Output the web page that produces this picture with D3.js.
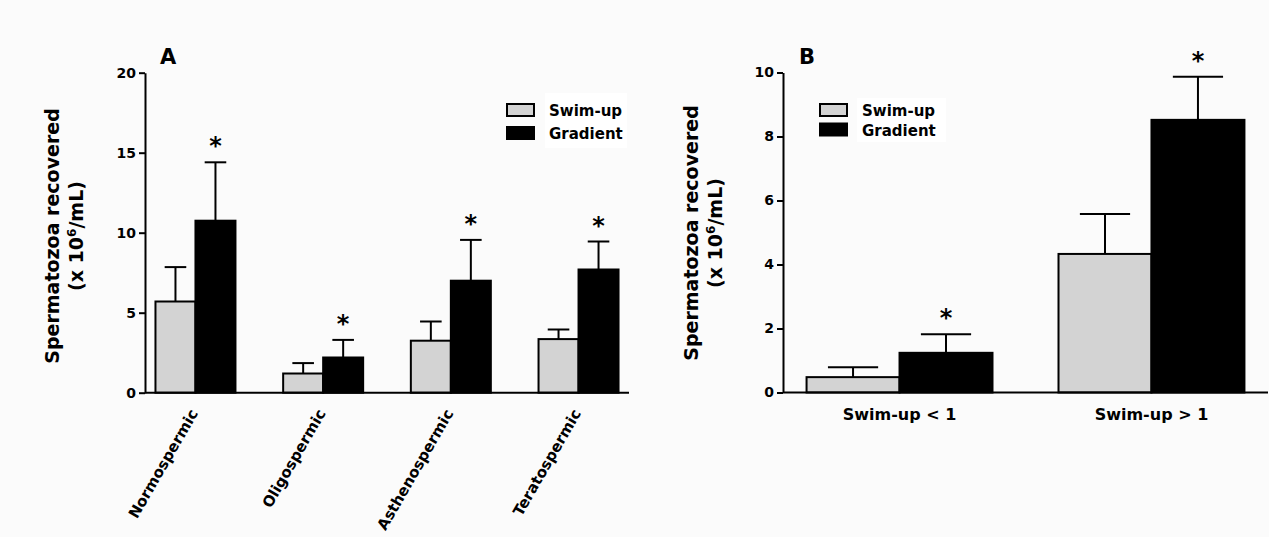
<!DOCTYPE html>
<html>
<head>
<meta charset="utf-8">
<script src="https://cdn.jsdelivr.net/npm/d3@7"></script>
<style>
body { margin: 0; background: #fbfbfb; }
svg { display: block; font-family: "DejaVu Sans", sans-serif; font-weight: bold; }
</style>
</head>
<body>
<script>
/* Data */
var seriesNames = ["Swim-up", "Gradient"];
var seriesFill = ["#d3d3d3", "#000000"];

var catsA = ["Normospermic", "Oligospermic", "Asthenospermic", "Teratospermic"];
var swimA = [5.7, 1.2, 3.25, 3.35];
var swimSemA = [2.15, 0.65, 1.2, 0.6];
var gradA = [10.75, 2.2, 7.0, 7.7];
var gradSemA = [3.65, 1.1, 2.55, 1.75];
var ticksA = [0, 5, 10, 15, 20];

var catsB = ["Swim-up < 1", "Swim-up > 1"];
var swimB = [0.48, 4.33];
var swimSemB = [0.31, 1.25];
var gradB = [1.24, 8.52];
var gradSemB = [0.58, 1.35];
var ticksB = [0, 2, 4, 6, 8, 10];

var W = 1269, H = 537;

var svg = d3.select("body").append("svg")
    .attr("width", W)
    .attr("height", H);

function panel(p) {
  var g = svg.append("g");
  var y = d3.scaleLinear().domain([0, p.max]).range([p.y0, p.y1]);
  var x = d3.scaleBand().domain(p.cats).range([p.x0, p.x1])
      .paddingInner(p.pi).paddingOuter(p.po);
  var xs = d3.scaleBand().domain(seriesNames).range([0, x.bandwidth()]);
  var bw = xs.bandwidth();

  var rows = [];
  p.cats.forEach(function(c, i) {
    rows.push({cat: c, s: 0, v: p.swim[i], e: p.swimSem[i], star: false});
    rows.push({cat: c, s: 1, v: p.grad[i], e: p.gradSem[i], star: true});
  });

  // error bars
  var eb = g.append("g").attr("stroke", "#000").attr("stroke-width", 2);
  rows.forEach(function(d) {
    var cx = x(d.cat) + xs(seriesNames[d.s]) + bw / 2;
    eb.append("line").attr("x1", cx).attr("x2", cx)
        .attr("y1", y(d.v)).attr("y2", y(d.v + d.e));
    eb.append("line").attr("x1", cx - bw * 0.27).attr("x2", cx + bw * 0.27)
        .attr("y1", y(d.v + d.e)).attr("y2", y(d.v + d.e));
  });

  g.selectAll("rect.bar").data(rows).join("rect")
      .attr("class", "bar")
      .attr("x", function(d) { return x(d.cat) + xs(seriesNames[d.s]); })
      .attr("y", function(d) { return y(d.v); })
      .attr("width", bw)
      .attr("height", function(d) { return y(0) - y(d.v); })
      .attr("fill", function(d) { return seriesFill[d.s]; })
      .attr("stroke", "#000").attr("stroke-width", 2);

  g.selectAll("text.star").data(rows.filter(function(d) { return d.star; })).join("text")
      .attr("class", "star")
      .attr("x", function(d) { return x(d.cat) + xs(seriesNames[d.s]) + bw / 2; })
      .attr("y", function(d) { return y(d.v + d.e) - 8; })
      .attr("text-anchor", "middle")
      .attr("font-size", 24)
      .text("*");

  // axes
  var ya = g.append("g").attr("transform", "translate(" + p.x0 + ",0)")
      .call(d3.axisLeft(y).tickValues(p.ticks).tickSize(6).tickSizeOuter(0).tickPadding(3));
  ya.selectAll("path, line").attr("stroke", "#000").attr("stroke-width", 2);
  ya.selectAll("text").attr("font-size", 14).attr("font-family", "DejaVu Sans")
      .attr("font-weight", "bold").attr("fill", "#000");

  g.append("line").attr("x1", p.x0).attr("x2", p.xEnd)
      .attr("y1", y(0)).attr("y2", y(0))
      .attr("stroke", "#000").attr("stroke-width", 2);

  // category labels
  var lab = g.selectAll("text.cat").data(p.cats).join("text")
      .attr("class", "cat")
      .attr("font-size", p.catSize)
      .text(function(d) { return d; });
  if (p.rotate) {
    lab.attr("text-anchor", "end")
        .attr("transform", function(d) {
          return "translate(" + (x(d) + x.bandwidth() / 2 + 3) + "," + p.catY + ") rotate(-60)";
        });
  } else {
    lab.attr("text-anchor", "middle")
        .attr("x", function(d) { return x(d) + x.bandwidth() / 2; })
        .attr("y", p.catY);
  }

  // y title
  var t = g.append("text").attr("font-size", 19).attr("text-anchor", "middle")
      .attr("transform", "translate(" + p.titleX + "," + p.titleY + ") rotate(-90)");
  t.append("tspan").attr("x", 0).attr("y", 0).text("Spermatozoa recovered");
  var t2 = t.append("tspan").attr("x", 0).attr("y", 24);
  t2.append("tspan").text("(x 10");
  t2.append("tspan").attr("font-size", 12).attr("dy", -7).text("6");
  t2.append("tspan").attr("dy", 7).text("/mL)");

  // panel letter
  g.append("text").attr("x", p.letterX).attr("y", 64).attr("font-size", 21).text(p.letter);

  // legend
  var lg = g.append("g");
  lg.append("rect").attr("x", p.leg.bx).attr("y", p.leg.by)
      .attr("width", p.leg.bw).attr("height", p.leg.bh).attr("fill", "#fff");
  seriesNames.forEach(function(s, i) {
    var yy = p.leg.y + i * p.leg.dy;
    lg.append("rect").attr("x", p.leg.x).attr("y", yy)
        .attr("width", 27).attr("height", 12)
        .attr("fill", seriesFill[i]).attr("stroke", "#000").attr("stroke-width", 2);
    lg.append("text").attr("x", p.leg.tx).attr("y", yy + 12)
        .attr("font-size", 15).text(s);
  });
}

panel({
  cats: catsA, swim: swimA, swimSem: swimSemA, grad: gradA, gradSem: gradSemA,
  max: 20, ticks: ticksA, y0: 392.7, y1: 72.7,
  x0: 145, x1: 629, xEnd: 629, pi: 0.3735, po: 0.082,
  rotate: true, catY: 413, catSize: 15,
  titleX: 59, titleY: 236, letter: "A", letterX: 160,
  leg: {x: 507, y: 104, dy: 23, tx: 549, bx: 545, by: 93, bw: 82, bh: 55}
});

panel({
  cats: catsB, swim: swimB, swimSem: swimSemB, grad: gradB, gradSem: gradSemB,
  max: 10, ticks: ticksB, y0: 392.5, y1: 72.5,
  x0: 783, x1: 1268, xEnd: 1268, pi: 0.262, po: 0.0935,
  rotate: false, catY: 420, catSize: 16,
  titleX: 698, titleY: 233, letter: "B", letterX: 799,
  leg: {x: 820, y: 104, dy: 19.5, tx: 862, bx: 857, by: 98, bw: 89, bh: 44}
});
</script>
</body>
</html>
